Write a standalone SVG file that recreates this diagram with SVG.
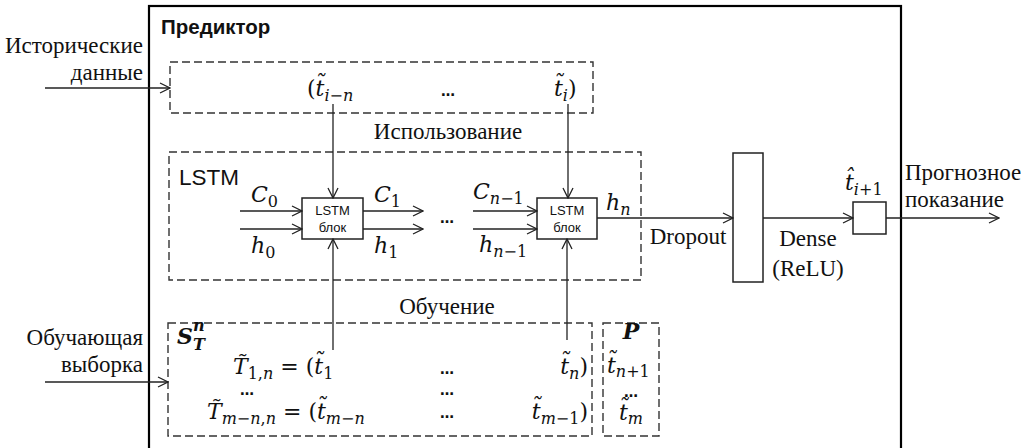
<svg xmlns="http://www.w3.org/2000/svg" width="1021" height="448" viewBox="0 0 1021 448">
<style>
.s{font-family:"Liberation Serif","DejaVu Serif","Times New Roman",serif;font-size:23px;fill:#111}
.m{font-family:"DejaVu Serif","Liberation Serif",serif;font-style:italic;font-size:22px;fill:#111}
.sub{font-size:16px}
.up{font-style:normal}
.a{font-family:"Liberation Sans",Arial,sans-serif;fill:#111}
.dash{fill:none;stroke:#333;stroke-width:1.4;stroke-dasharray:8 4}
.ln{fill:none;stroke:#222;stroke-width:1.3}
.box{fill:#fff;stroke:#222;stroke-width:1.5}
.dots{font-family:"DejaVu Sans",sans-serif;font-size:14px;font-weight:bold;fill:#111}
</style>
<defs>
<marker id="ar" markerWidth="12" markerHeight="12" refX="11" refY="6" orient="auto" markerUnits="userSpaceOnUse">
<path d="M1,1 L11,6 L1,11" fill="none" stroke="#222" stroke-width="1.3"/>
</marker>
</defs>
<rect width="1021" height="448" fill="#fff"/>

<g id="predictor">
<rect x="149" y="6" width="752" height="448" fill="none" stroke="#000" stroke-width="2.2"/>
<text x="161" y="34" class="a" font-size="20.5" font-weight="bold">Предиктор</text>
</g>

<g id="inputs-labels">
<text x="143" y="53" class="s" text-anchor="end">Исторические</text>
<text x="143" y="80" class="s" text-anchor="end">данные</text>
<text x="143" y="345" class="s" text-anchor="end">Обучающая</text>
<text x="143" y="372" class="s" text-anchor="end">выборка</text>
<text x="905" y="180" class="s">Прогнозное</text>
<text x="905" y="207" class="s">показание</text>
</g>

<g id="usage-window">
<rect x="170" y="62" width="423" height="51" class="dash"/>
<text x="307" y="96" class="m"><tspan class="up">(</tspan>t&#x303;<tspan class="sub" dy="5">i<tspan class="up">−</tspan>n</tspan></text>
<text x="448" y="96" class="dots" text-anchor="middle">…</text>
<text x="554" y="96" class="m">t&#x303;<tspan class="sub" dy="5">i</tspan><tspan class="up" dy="-5">)</tspan></text>
<text x="448" y="139" class="s" text-anchor="middle">Использование</text>
</g>

<g id="lstm">
<rect x="169" y="152" width="472" height="128" class="dash"/>
<text x="179" y="185" class="a" font-size="22.5">LSTM</text>
</g>

<g id="lstm-block-1">
<rect x="302" y="198" width="61" height="41" class="box"/>
<text x="332.5" y="215" class="a" font-size="13" text-anchor="middle">LSTM</text>
<text x="332.5" y="232" class="a" font-size="13" text-anchor="middle">блок</text>
</g>

<g id="lstm-block-2">
<rect x="537" y="198" width="60" height="41" class="box"/>
<text x="567" y="215" class="a" font-size="13" text-anchor="middle">LSTM</text>
<text x="567" y="232" class="a" font-size="13" text-anchor="middle">блок</text>
</g>

<g id="state-labels">
<text x="251" y="202" class="m">C<tspan class="sub up" dy="5">0</tspan></text>
<text x="251" y="253" class="m">h<tspan class="sub up" dy="5">0</tspan></text>
<text x="374" y="202" class="m">C<tspan class="sub up" dy="5">1</tspan></text>
<text x="374" y="253" class="m">h<tspan class="sub up" dy="5">1</tspan></text>
<text x="447" y="223" class="dots" text-anchor="middle">…</text>
<text x="473" y="199" class="m">C<tspan class="sub" dy="5">n<tspan class="up">−1</tspan></tspan></text>
<text x="479" y="252" class="m">h<tspan class="sub" dy="5">n<tspan class="up">−1</tspan></tspan></text>
<text x="606" y="210" class="m">h<tspan class="sub" dy="5">n</tspan></text>
</g>

<g id="dropout">
<rect x="733" y="153" width="30" height="129" class="box"/>
<text x="688" y="244" class="s" text-anchor="middle">Dropout</text>
</g>

<g id="dense">
<rect x="853" y="202" width="33" height="32" class="box"/>
<text x="808" y="246" class="s" text-anchor="middle">Dense</text>
<text x="808" y="276" class="s" text-anchor="middle">(ReLU)</text>
<text x="845" y="190" class="m">t&#x302;<tspan class="sub" dy="5">i<tspan class="up">+1</tspan></tspan></text>
</g>

<g id="training-set">
<rect x="168" y="323" width="424" height="113" class="dash"/>
<text x="177" y="344" class="m" font-weight="bold" font-size="24">S</text>
<text x="193" y="331" class="m sub" font-weight="bold">n</text>
<text x="193" y="350" class="m sub" font-weight="bold">T</text>
<text x="447" y="314" class="s" text-anchor="middle">Обучение</text>
<text x="233" y="374" class="m">T&#x303;<tspan class="sub" dy="5"><tspan class="up">1,</tspan>n</tspan><tspan class="up" dy="-5"> = (</tspan>t&#x303;<tspan class="sub up" dy="5">1</tspan></text>
<text x="447" y="374" class="dots" text-anchor="middle">…</text>
<text x="588" y="374" class="m" text-anchor="end">t&#x303;<tspan class="sub" dy="5">n</tspan><tspan class="up" dy="-5">)</tspan></text>
<text x="247" y="395" class="dots" text-anchor="middle">…</text>
<text x="447" y="395" class="dots" text-anchor="middle">…</text>
<text x="207" y="419" class="m">T&#x303;<tspan class="sub" dy="5">m<tspan class="up">−</tspan>n<tspan class="up">,</tspan>n</tspan><tspan class="up" dy="-5"> = (</tspan>t&#x303;<tspan class="sub" dy="5">m<tspan class="up">−</tspan>n</tspan></text>
<text x="447" y="418" class="dots" text-anchor="middle">…</text>
<text x="588" y="419" class="m" text-anchor="end">t&#x303;<tspan class="sub" dy="5">m<tspan class="up">−1</tspan></tspan><tspan class="up" dy="-5">)</tspan></text>
</g>

<g id="prediction-set">
<rect x="603" y="323" width="56" height="113" class="dash"/>
<text x="631" y="339" class="m" font-weight="bold" text-anchor="middle">P</text>
<text x="607" y="373" class="m">t&#x303;<tspan class="sub" dy="4">n<tspan class="up">+1</tspan></tspan></text>
<text x="631" y="397" class="dots" text-anchor="middle">…</text>
<text x="619" y="420" class="m">t&#x303;<tspan class="sub" dy="4">m</tspan></text>
</g>

<g id="connectors">
<line x1="45" y1="88" x2="170" y2="88" class="ln" marker-end="url(#ar)"/>
<line x1="45" y1="382" x2="168" y2="382" class="ln" marker-end="url(#ar)"/>
<line x1="333" y1="104" x2="333" y2="198" class="ln" marker-end="url(#ar)"/>
<line x1="568" y1="104" x2="568" y2="198" class="ln" marker-end="url(#ar)"/>
<line x1="333" y1="350" x2="333" y2="239" class="ln" marker-end="url(#ar)"/>
<line x1="567" y1="340" x2="567" y2="239" class="ln" marker-end="url(#ar)"/>
<line x1="240" y1="211" x2="302" y2="211" class="ln" marker-end="url(#ar)"/>
<line x1="240" y1="229" x2="302" y2="229" class="ln" marker-end="url(#ar)"/>
<line x1="363" y1="211" x2="423" y2="211" class="ln" marker-end="url(#ar)"/>
<line x1="363" y1="229" x2="423" y2="229" class="ln" marker-end="url(#ar)"/>
<line x1="473" y1="211" x2="537" y2="211" class="ln" marker-end="url(#ar)"/>
<line x1="473" y1="229" x2="537" y2="229" class="ln" marker-end="url(#ar)"/>
<line x1="597" y1="218" x2="733" y2="218" class="ln" marker-end="url(#ar)"/>
<line x1="763" y1="218" x2="853" y2="218" class="ln" marker-end="url(#ar)"/>
<line x1="886" y1="218" x2="999" y2="218" class="ln" marker-end="url(#ar)"/>
</g>
</svg>
